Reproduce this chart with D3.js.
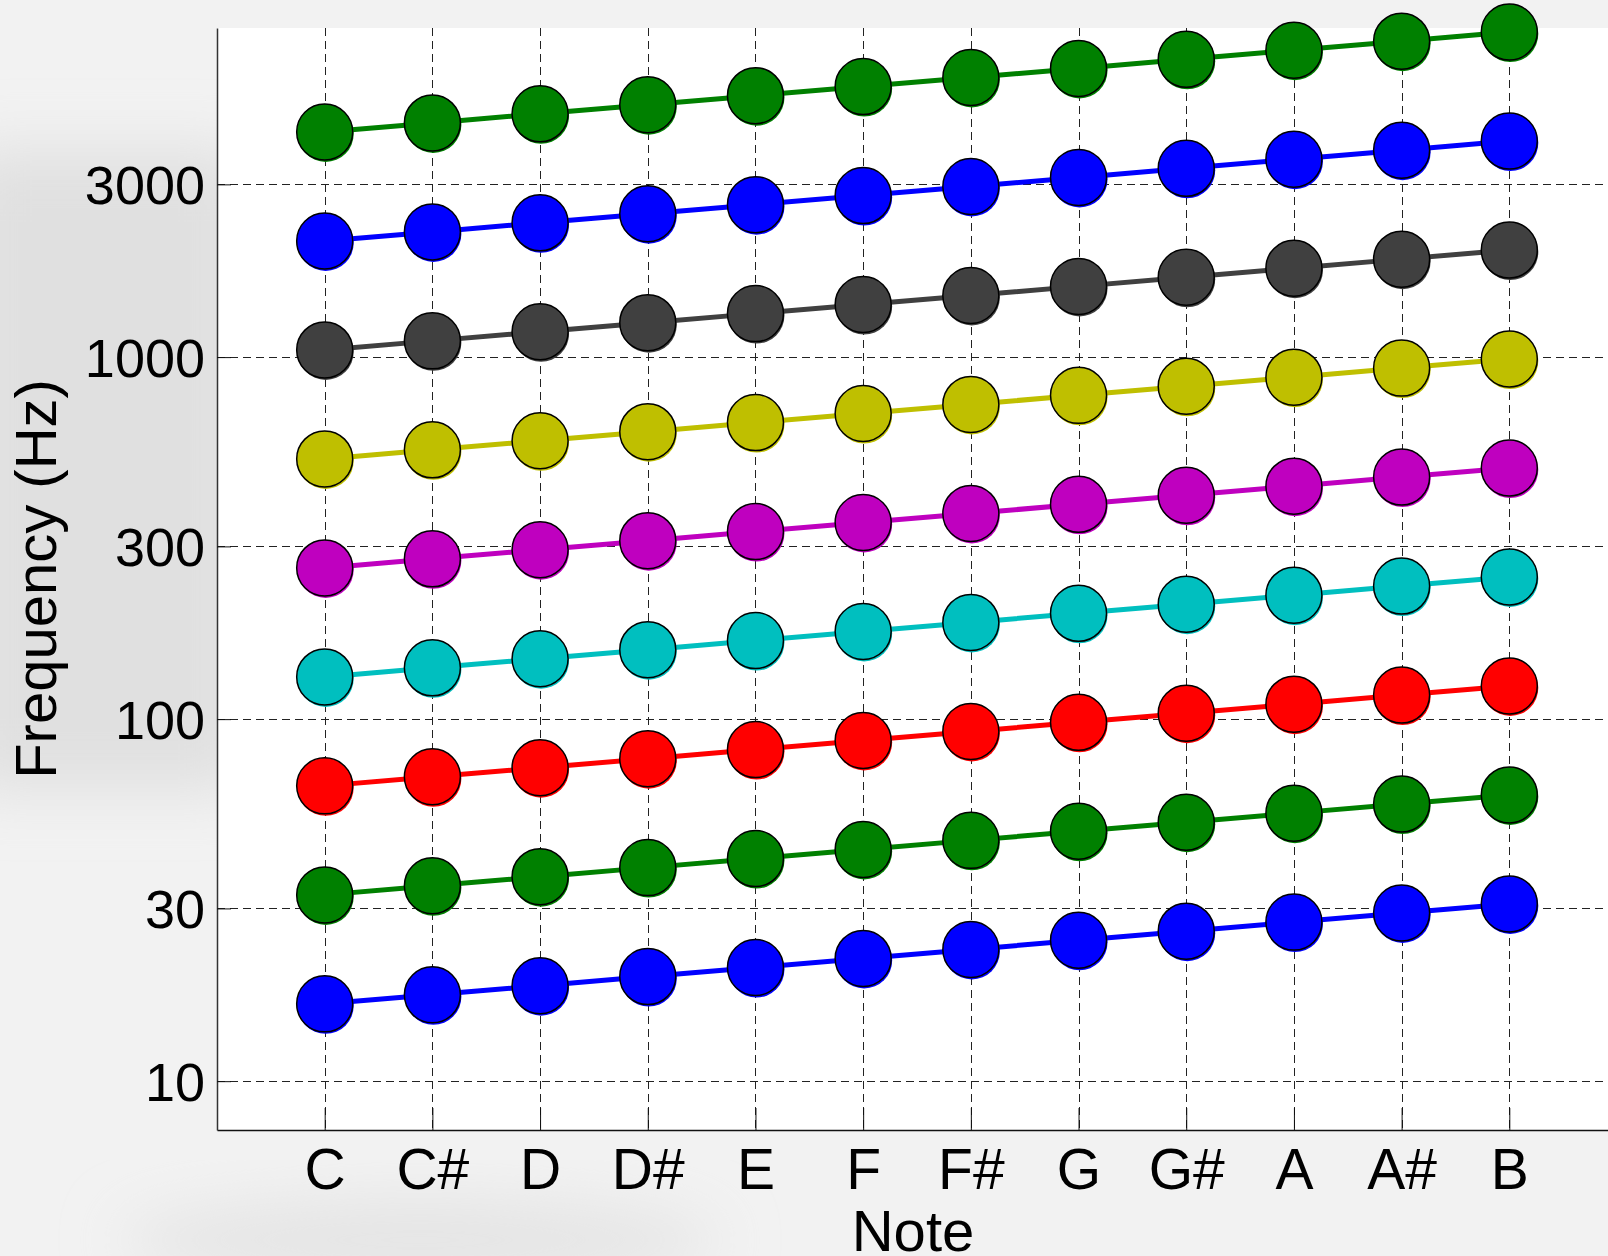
<!DOCTYPE html>
<html>
<head>
<meta charset="utf-8">
<script src="https://cdnjs.cloudflare.com/ajax/libs/d3/7.8.5/d3.min.js"></script>
<style>
  html, body { margin: 0; padding: 0; background: #f2f2f2; }
  svg { display: block; }
  text { font-family: "Liberation Sans", Arial, sans-serif; fill: #000; }
</style>
</head>
<body>
<svg id="chart" width="1608" height="1256"></svg>
<script>
// note names on the x axis
var notes = ["C", "C#", "D", "D#", "E", "F", "F#", "G", "G#", "A", "A#", "B"];

// y axis tick values
var yTicks = [10, 30, 100, 300, 1000, 3000];

// frequency of every note, one array per octave (Hz)
var octave0 = [16.35, 17.32, 18.35, 19.45, 20.60, 21.83, 23.12, 24.50, 25.96, 27.50, 29.14, 30.87];
var octave1 = [32.70, 34.65, 36.71, 38.89, 41.20, 43.65, 46.25, 49.00, 51.91, 55.00, 58.27, 61.74];
var octave2 = [65.41, 69.30, 73.42, 77.78, 82.41, 87.31, 92.50, 98.00, 103.83, 110.00, 116.54, 123.47];
var octave3 = [130.81, 138.59, 146.83, 155.56, 164.81, 174.61, 185.00, 196.00, 207.65, 220.00, 233.08, 246.94];
var octave4 = [261.63, 277.18, 293.66, 311.13, 329.63, 349.23, 369.99, 392.00, 415.30, 440.00, 466.16, 493.88];
var octave5 = [523.25, 554.37, 587.33, 622.25, 659.25, 698.46, 739.99, 783.99, 830.61, 880.00, 932.33, 987.77];
var octave6 = [1046.50, 1108.73, 1174.66, 1244.51, 1318.51, 1396.91, 1479.98, 1567.98, 1661.22, 1760.00, 1864.66, 1975.53];
var octave7 = [2093.00, 2217.46, 2349.32, 2489.02, 2637.02, 2793.83, 2959.96, 3135.96, 3322.44, 3520.00, 3729.31, 3951.07];
var octave8 = [4186.01, 4434.92, 4698.63, 4978.03, 5274.04, 5587.65, 5919.91, 6271.93, 6644.88, 7040.00, 7458.62, 7902.13];

var octaves = [octave0, octave1, octave2, octave3, octave4, octave5, octave6, octave7, octave8];
// matlab style colour order
var colors = ["#0000ff", "#008000", "#ff0000", "#00bfbf", "#bf00bf", "#bfbf00", "#404040", "#0000ff", "#008000"];

var svg = d3.select("#chart");
var W = 1608, H = 1256;

// plot area (window.top is taken, so prefixed names)
var plotLeft = 217, plotTop = 28, plotBottom = 1130, plotRight = 1617;

var defs = svg.append("defs");
var blur = defs.append("filter").attr("id", "soft").attr("x", "-50%").attr("y", "-50%").attr("width", "200%").attr("height", "200%");
blur.append("feGaussianBlur").attr("stdDeviation", 30);

// slide background
svg.append("rect").attr("width", W).attr("height", H).attr("fill", "#f2f2f2");
svg.append("rect").attr("x", -40).attr("y", 150).attr("width", 290).attr("height", 640)
  .attr("fill", "#e0e0e0").attr("filter", "url(#soft)");
svg.append("ellipse").attr("cx", 420).attr("cy", 1240).attr("rx", 300).attr("ry", 40)
  .attr("fill", "#e4e4e4").attr("filter", "url(#soft)");

var x = d3.scaleLinear().domain([0, 13]).range([plotLeft, plotRight]);
var y = d3.scaleLog().domain([7.33, 8110]).range([plotBottom, plotTop]);

// white axes background
svg.append("rect").attr("x", plotLeft).attr("y", plotTop).attr("width", plotRight - plotLeft)
  .attr("height", plotBottom - plotTop).attr("fill", "#fff");

// grid lines
var grid = svg.append("g").attr("stroke", "#222").attr("stroke-width", 1).attr("stroke-dasharray", "8,5");
grid.selectAll(".gx").data(notes).enter().append("line")
  .attr("x1", function(d, i) { return Math.round(x(i + 1)) + 0.5; })
  .attr("x2", function(d, i) { return Math.round(x(i + 1)) + 0.5; })
  .attr("y1", plotTop).attr("y2", plotBottom);
grid.selectAll(".gy").data(yTicks).enter().append("line")
  .attr("x1", plotLeft).attr("x2", plotRight)
  .attr("y1", function(d) { return Math.round(y(d)) + 0.5; })
  .attr("y2", function(d) { return Math.round(y(d)) + 0.5; });

// axes
var xAxis = d3.axisBottom(x).tickValues(d3.range(1, 13)).tickFormat(function(d) { return notes[d - 1]; })
  .tickSizeInner(-22).tickSizeOuter(0).tickPadding(28);
var gx = svg.append("g").attr("transform", "translate(0," + plotBottom + ")").call(xAxis);
gx.select(".domain").attr("stroke", "#111").attr("stroke-width", 1.5);
gx.selectAll(".tick line").attr("stroke", "#111");
gx.selectAll(".tick text").attr("font-size", 57).attr("dy", "0.55em").attr("font-family", "Liberation Sans, Arial, sans-serif");

var yAxis = d3.axisLeft(y).tickValues(yTicks).tickFormat(d3.format("d"))
  .tickSizeInner(-14).tickSizeOuter(0).tickPadding(12);
var gy = svg.append("g").attr("transform", "translate(" + plotLeft + ",0)").call(yAxis);
gy.select(".domain").attr("stroke", "#333").attr("stroke-width", 1.5);
gy.selectAll(".tick line").attr("stroke", "#111");
gy.selectAll(".tick text").attr("font-size", 54).attr("dy", "0.36em").attr("font-family", "Liberation Sans, Arial, sans-serif");

// axis titles
svg.append("text").attr("x", 913).attr("y", 1251).attr("text-anchor", "middle")
  .attr("font-size", 58).text("Note");
svg.append("text").attr("transform", "translate(56,579) rotate(-90)").attr("text-anchor", "middle")
  .attr("font-size", 58).text("Frequency (Hz)");

// series lines and markers
var line = d3.line().x(function(d, i) { return x(i + 1); }).y(function(d) { return y(d); });
var series = svg.append("g");
octaves.forEach(function(oct, k) {
  var g = series.append("g");
  g.append("path").datum(oct).attr("d", line).attr("fill", "none")
    .attr("stroke", colors[k]).attr("stroke-width", 5);
  // coloured shadow behind each marker
  g.selectAll(".shadow").data(oct).enter().append("circle")
    .attr("cx", function(d, i) { return x(i + 1) + 1; })
    .attr("cy", function(d) { return y(d) + 2; })
    .attr("r", 28).attr("fill", colors[k]);
  g.selectAll(".dot").data(oct).enter().append("circle")
    .attr("cx", function(d, i) { return x(i + 1); })
    .attr("cy", function(d) { return y(d); })
    .attr("r", 28).attr("fill", colors[k]).attr("stroke", "#000").attr("stroke-width", 1.5);
});
</script>
</body>
</html>
